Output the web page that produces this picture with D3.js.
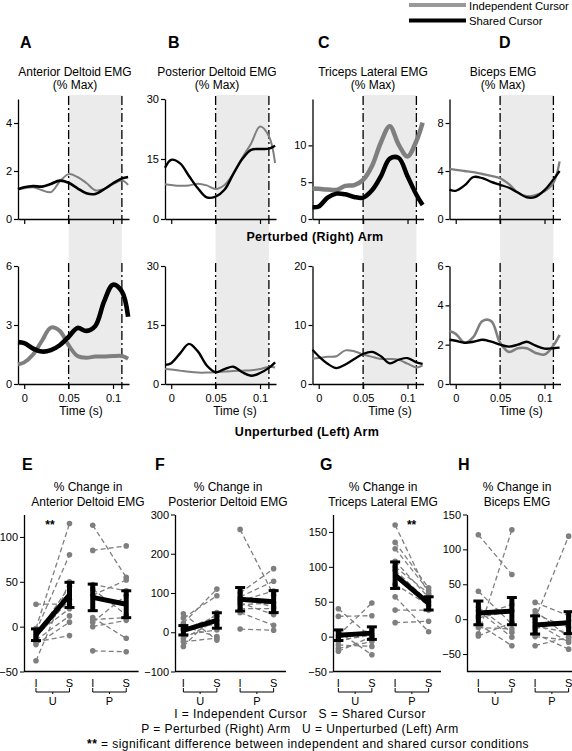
<!DOCTYPE html>
<html><head><meta charset="utf-8">
<script src="https://cdn.jsdelivr.net/npm/d3@7"></script>
<style>body{margin:0;background:#fff} svg{display:block;font-family:Arial,"Liberation Sans",sans-serif}</style>
</head><body><svg id="c" width="572" height="751"></svg>
<script>
// ---------- DATA ----------
const time = [-0.007, 0, 0.01, 0.02, 0.03, 0.04, 0.05, 0.06, 0.07, 0.08, 0.09, 0.10, 0.11, 0.117];
const timeTicks = [0, 0.05, 0.1];
const muscles = ["Anterior Deltoid EMG", "Posterior Deltoid EMG", "Triceps Lateral EMG", "Biceps EMG"];
const topLetters = ["A", "B", "C", "D"];
const changeLetters = ["E", "F", "G", "H"];

// Perturbed (Right) arm, % max
const pertIndep = [
  [1.24, 1.28, 1.32, 1.2, 1.12, 1.56, 1.87, 1.75, 1.5, 1.2, 1.25, 1.45, 1.6, 1.42],
  [8.7, 8.5, 8.3, 8.4, 8.8, 8.4, 7.5, 8.5, 11.4, 15.3, 18.9, 23.1, 20.7, 14],
  [4.15, 4.1, 4.0, 3.95, 4.5, 4.6, 5.3, 7.2, 10.4, 12.6, 10.1, 8.5, 10.6, 13.1],
  [4.15, 4.1, 4.0, 3.9, 3.75, 3.6, 3.4, 2.9, 2.2, 1.9, 2.0, 2.3, 3.0, 4.8]
];
const pertShared = [
  [1.24, 1.32, 1.37, 1.35, 1.46, 1.6, 1.51, 1.28, 1.07, 1.04, 1.24, 1.49, 1.69, 1.75],
  [12.8, 14.8, 13.9, 10.75, 7.67, 5.4, 5.6, 7.3, 11.3, 15.0, 17.3, 17.5, 17.6, 18.3],
  [1.6, 1.7, 2.9, 3.45, 3.35, 3.0, 2.9, 3.9, 5.8, 8.2, 8.3, 5.8, 3.3, 1.9],
  [2.45, 2.35, 2.8, 3.5, 3.4, 3.1, 2.85, 2.6, 2.2, 1.8, 1.85, 2.4, 3.3, 4.0]
];
// Unperturbed (Left) arm, % max
const unpertIndep = [
  [1.0, 1.1, 1.5, 2.2, 2.87, 2.7, 1.97, 1.42, 1.33, 1.4, 1.4, 1.42, 1.42, 1.28],
  [3.8, 3.7, 3.4, 3.1, 2.9, 2.9, 3.0, 3.2, 3.3, 3.4, 3.5, 3.8, 4.4, 4.2],
  [4.3, 4.4, 4.6, 4.7, 5.7, 5.56, 5.0, 4.6, 4.24, 4.24, 4.1, 3.44, 2.8, 3.15],
  [2.7, 2.55, 2.1, 2.4, 3.2, 3.2, 2.1, 1.63, 1.82, 1.82, 1.58, 1.5, 1.96, 2.5]
];
const unpertShared = [
  [2.13, 2.08, 1.8, 1.65, 1.72, 1.97, 2.4, 2.85, 2.7, 2.95, 4.2, 5.05, 4.7, 3.42],
  [4.86, 5.3, 7.8, 10.2, 8.3, 4.7, 3.0, 3.8, 4.4, 3.0, 2.1, 2.8, 4.1, 5.5],
  [5.8, 4.7, 3.44, 2.7, 3.3, 4.24, 5.1, 5.45, 4.7, 3.5, 4.1, 4.4, 3.67, 3.4],
  [2.25, 2.2, 2.1, 2.15, 2.25, 2.15, 2.0, 1.9, 2.0, 2.15, 1.95, 1.8, 1.82, 1.85]
];
const pertYMax = [5, 30, 16.3, 10];
const pertYTicks = [[0, 2, 4], [0, 15, 30], [0, 5, 10], [0, 4, 8]];
const unpertYMax = [6, 30, 20, 6];
const unpertYTicks = [[0, 3, 6], [0, 15, 30], [0, 10, 20], [0, 2, 4, 6]];

// % change per subject: [I_U, S_U, I_P, S_P]
const eIU = [25, -2, -5, -10, -12, -15, -17, -20, -38, -8];
const eSU = [25, 115, 80, 45, 30, 12, -10, 5, 50, 20];
const eIP = [113, 85, 47, 42, 35, 10, 5, 0, -27, 8];
const eSP = [55, 90, 40, 13, 52, -13, 35, 7, -28, 10];
const fIU = [47, 36, 23, 15, 6, -7, -16, -24, -36, 10];
const fSU = [-20, 93, 110, -11, 41, 6, 30, -15, 50, 20];
const fIP = [262, 100, 90, 80, 75, 70, 60, 50, 8, 85];
const fSP = [95, 162, 130, 105, 45, 75, 60, 18, 5, 65];
const gIU = [40, 29, 7, 2, -2, -7, -12, -17, -21, -5];
const gSU = [-2, 30, -26, 48, 10, 5, -14, -7, 0, 2];
const gIP = [160, 135, 126, 108, 100, 95, 75, 57, 38, 20];
const gSP = [60, 70, 66, 56, 62, 50, 45, 7, 38, 22];
const hIU = [121, 40, 17, 12, 5, 2, -7, -12, -21, -24];
const hSU = [64, -7, -19, -26, 21, 12, -38, -14, 128, -5];
const hIP = [24, 12, 7, 0, -5, -10, -14, -21, -38, -25];
const hSP = [5, -26, -12, 119, -33, -19, -2, -43, -26, -30];
const changeIU = [eIU, fIU, gIU, hIU], changeSU = [eSU, fSU, gSU, hSU];
const changeIP = [eIP, fIP, gIP, hIP], changeSP = [eSP, fSP, gSP, hSP];
const meanIU = [-9, 5, 2, 9], meanSU = [35.4, 30, 5, 11.5], meanIP = [32.6, 84, 88, -8.3], meanSP = [25, 78, 47.6, -5];
const semIU = [6.5, 12, 7.6, 17], semSU = [14, 19.6, 9, 19.5], semIP = [14.8, 30, 19, 13], semSP = [15, 28, 9.5, 15.7];
const changeYDomain = [[-50, 125], [-100, 300], [-50, 175], [-75, 150]];
const changeYTicks = [[-50, 0, 50, 100], [-100, 0, 100, 200, 300], [-50, 0, 50, 100, 150], [-50, 0, 50, 100, 150]];
const sigGroup = ["U", null, "P", null];
const groups = ["U", "P"], conds = ["I", "S"];

// ---------- LAYOUT ----------
const svg = d3.select("#c");
const GREY = "#7f7f7f";
const colX = [18, 165, 312.5, 449.5];
const plotW = 111;
const topRow = {y0: 219, y1: 99}, botRow = {y0: 384, y1: 266};
const widthTop = [[2, 2.6], [2, 2.4], [4.5, 4.5], [2.3, 2.3]];
const widthBot = [[4, 4.6], [2, 2.4], [2, 2.2], [2.6, 2.4]];
const titleCX = [75, 217, 373, 503];
const letterX = [20, 168, 318, 499];
const timeLabelCX = [81, 235, 390, 521];

// legend
svg.append("line").attr("x1", 409).attr("x2", 466).attr("y1", 5).attr("y2", 5).attr("stroke", "#999").attr("stroke-width", 4);
svg.append("line").attr("x1", 409).attr("x2", 466).attr("y1", 20.5).attr("y2", 20.5).attr("stroke", "#000").attr("stroke-width", 4);
svg.append("text").attr("x", 469).attr("y", 9.5).attr("font-size", 11.3).text("Independent Cursor");
svg.append("text").attr("x", 469).attr("y", 24.5).attr("font-size", 11.3).text("Shared Cursor");

const line = (x, y) => d3.line().x((d, i) => x(time[i])).y(d => y(d)).curve(d3.curveCatmullRom.alpha(0.5));

for (let p = 0; p < 4; p++) {
  const x = d3.scaleLinear().domain([-0.007, 0.118]).range([colX[p], colX[p] + plotW]);
  svg.append("rect").attr("x", x(0.05)).attr("width", x(0.11) - x(0.05)).attr("y", 95).attr("height", 384 - 95).attr("fill", "#ebebeb");
  svg.append("text").attr("x", letterX[p]).attr("y", 48).attr("font-size", 16).attr("font-weight", "bold").text(topLetters[p]);
  svg.append("text").attr("x", titleCX[p]).attr("y", 76).attr("text-anchor", "middle").attr("font-size", 12).text(muscles[p]);
  svg.append("text").attr("x", titleCX[p]).attr("y", 89).attr("text-anchor", "middle").attr("font-size", 12).text("(% Max)");

  const rows = [
    {r: topRow, ymax: pertYMax[p], ticks: pertYTicks[p], ind: pertIndep[p], sh: pertShared[p], w: widthTop[p], labels: false},
    {r: botRow, ymax: unpertYMax[p], ticks: unpertYTicks[p], ind: unpertIndep[p], sh: unpertShared[p], w: widthBot[p], labels: true}
  ];
  rows.forEach(R => {
    const y = d3.scaleLinear().domain([0, R.ymax]).range([R.r.y0, R.r.y1]);
    [0.05, 0.11].forEach(t => {
      svg.append("line").attr("x1", x(t)).attr("x2", x(t)).attr("y1", R.r.y1 - 3).attr("y2", R.r.y0 + 5)
        .attr("stroke", "#000").attr("stroke-width", 1.3).attr("stroke-dasharray", "9,3,2,3");
    });
    const ya = svg.append("g").attr("transform", `translate(${colX[p]},0)`)
      .call(d3.axisLeft(y).tickValues(R.ticks).tickSize(4).tickPadding(2).tickSizeOuter(0).tickFormat(d3.format("d")));
    const xa = svg.append("g").attr("transform", `translate(0,${R.r.y0})`)
      .call(d3.axisBottom(x).tickValues(timeTicks).tickSize(5).tickSizeOuter(0)
        .tickFormat(R.labels ? (d => d === 0 ? "0" : d === 0.05 ? "0.05" : "0.1") : ""));
    [ya, xa].forEach(a => {
      a.selectAll("path").attr("stroke-width", 1.3);
      a.selectAll("line").attr("stroke-width", 1.2);
      a.selectAll("text").attr("font-size", 11).attr("font-family", "Arial, Liberation Sans, sans-serif").attr("fill", "#000");
    });
    xa.selectAll("text").attr("dy", "0.95em");
    svg.append("path").attr("d", line(x, y)(R.ind)).attr("fill", "none").attr("stroke", GREY).attr("stroke-width", R.w[0]);
    svg.append("path").attr("d", line(x, y)(R.sh)).attr("fill", "none").attr("stroke", "#000").attr("stroke-width", R.w[1]);
    if (R.labels) {
      svg.append("text").attr("x", timeLabelCX[p]).attr("y", 415).attr("text-anchor", "middle").attr("font-size", 12).text("Time (s)");
    }
  });
}
svg.append("text").attr("x", 315).attr("y", 241).attr("text-anchor", "middle").attr("font-size", 12.5).attr("font-weight", "bold").attr("letter-spacing", 0.3).text("Perturbed (Right) Arm");
svg.append("text").attr("x", 307).attr("y", 436).attr("text-anchor", "middle").attr("font-size", 12.5).attr("font-weight", "bold").attr("letter-spacing", 0.3).text("Unperturbed (Left) Arm");

// ---------- % change panels ----------
const cAxisX = [24, 175, 333, 467];
const cRangeStart = [28.6, 176, 331, 471];
const cLetterX = [22, 155, 320, 458];
const cTitleCX = [88, 228, 383, 517];
for (let p = 0; p < 4; p++) {
  const y = d3.scaleLinear().domain(changeYDomain[p]).range([671.5, 514.5]);
  const gx = d3.scaleBand().domain(groups).range([cRangeStart[p], cRangeStart[p] + 105]).paddingInner(0.15);
  const cx = d3.scalePoint().domain(conds).range([0, gx.bandwidth()]).padding(0.22);
  const X = (g, c) => gx(g) + cx(c);

  svg.append("text").attr("x", cLetterX[p]).attr("y", 470).attr("font-size", 16).attr("font-weight", "bold").text(changeLetters[p]);
  svg.append("text").attr("x", cTitleCX[p]).attr("y", 491).attr("text-anchor", "middle").attr("font-size", 12).text("% Change in");
  svg.append("text").attr("x", cTitleCX[p]).attr("y", 506).attr("text-anchor", "middle").attr("font-size", 12).text(muscles[p]);

  const ya = svg.append("g").attr("transform", `translate(${cAxisX[p]},0)`)
    .call(d3.axisLeft(y).tickValues(changeYTicks[p]).tickSize(4).tickPadding(2).tickSizeOuter(0).tickFormat(d3.format("d")));
  ya.selectAll("path").attr("stroke-width", 1.3);
  ya.selectAll("text").attr("font-size", 11).attr("fill", "#000");
  svg.append("line").attr("x1", cAxisX[p]).attr("x2", cRangeStart[p] + 110).attr("y1", 671.5).attr("y2", 671.5).attr("stroke", "#000").attr("stroke-width", 1.3);

  const data = {U: [changeIU[p], changeSU[p]], P: [changeIP[p], changeSP[p]]};
  const means = {U: [meanIU[p], meanSU[p]], P: [meanIP[p], meanSP[p]]};
  const sems = {U: [semIU[p], semSU[p]], P: [semIP[p], semSP[p]]};
  groups.forEach(g => {
    const [iv, sv] = data[g];
    iv.forEach((v, k) => {
      svg.append("line").attr("x1", X(g, "I")).attr("x2", X(g, "S")).attr("y1", y(v)).attr("y2", y(sv[k]))
        .attr("stroke", GREY).attr("stroke-width", 1.3).attr("stroke-dasharray", "5,3");
    });
    iv.forEach((v, k) => {
      svg.append("circle").attr("cx", X(g, "I")).attr("cy", y(v)).attr("r", 2.8).attr("fill", GREY);
      svg.append("circle").attr("cx", X(g, "S")).attr("cy", y(sv[k])).attr("r", 2.8).attr("fill", GREY);
    });
    svg.append("line").attr("x1", X(g, "I")).attr("x2", X(g, "S")).attr("y1", y(means[g][0])).attr("y2", y(means[g][1]))
      .attr("stroke", "#000").attr("stroke-width", 5);
    conds.forEach((c, ci) => {
      const m = means[g][ci], s = sems[g][ci], xx = X(g, c);
      svg.append("line").attr("x1", xx).attr("x2", xx).attr("y1", y(m - s)).attr("y2", y(m + s)).attr("stroke", "#000").attr("stroke-width", 5);
      [m - s, m + s].forEach(e => svg.append("line").attr("x1", xx - 5).attr("x2", xx + 5).attr("y1", y(e)).attr("y2", y(e)).attr("stroke", "#000").attr("stroke-width", 3));
      svg.append("text").attr("x", xx).attr("y", 687).attr("text-anchor", "middle").attr("font-size", 11).text(c);
    });
    const xa = X(g, "I"), xb = X(g, "S"), xm = (xa + xb) / 2;
    svg.append("path").attr("d", `M${xa},688V692H${xb}V688M${xm},692V694`).attr("fill", "none").attr("stroke", "#000").attr("stroke-width", 1);
    svg.append("text").attr("x", xm).attr("y", 705).attr("text-anchor", "middle").attr("font-size", 11).text(g);
    if (sigGroup[p] === g) {
      svg.append("text").attr("x", (g === "U" ? X(g, "I") + 14 : X(g, "S") - 17)).attr("y", 529).attr("text-anchor", "middle")
        .attr("font-size", 12).attr("font-weight", "bold").text("**");
    }
  });
}

// footer
const fs = 12, ls = 0.45;
svg.append("text").attr("x", 300).attr("y", 718).attr("text-anchor", "middle").attr("font-size", fs).attr("letter-spacing", ls).attr("xml:space", "preserve").text("I = Independent Cursor   S = Shared Cursor");
svg.append("text").attr("x", 300).attr("y", 733).attr("text-anchor", "middle").attr("font-size", fs).attr("letter-spacing", ls).attr("xml:space", "preserve").text("P = Perturbed (Right) Arm   U = Unperturbed (Left) Arm");
const ft = svg.append("text").attr("x", 308).attr("y", 748).attr("text-anchor", "middle").attr("font-size", fs).attr("letter-spacing", ls);
ft.append("tspan").attr("font-weight", "bold").text("**");
ft.append("tspan").text(" = significant difference between independent and shared cursor conditions");
</script></body></html>
